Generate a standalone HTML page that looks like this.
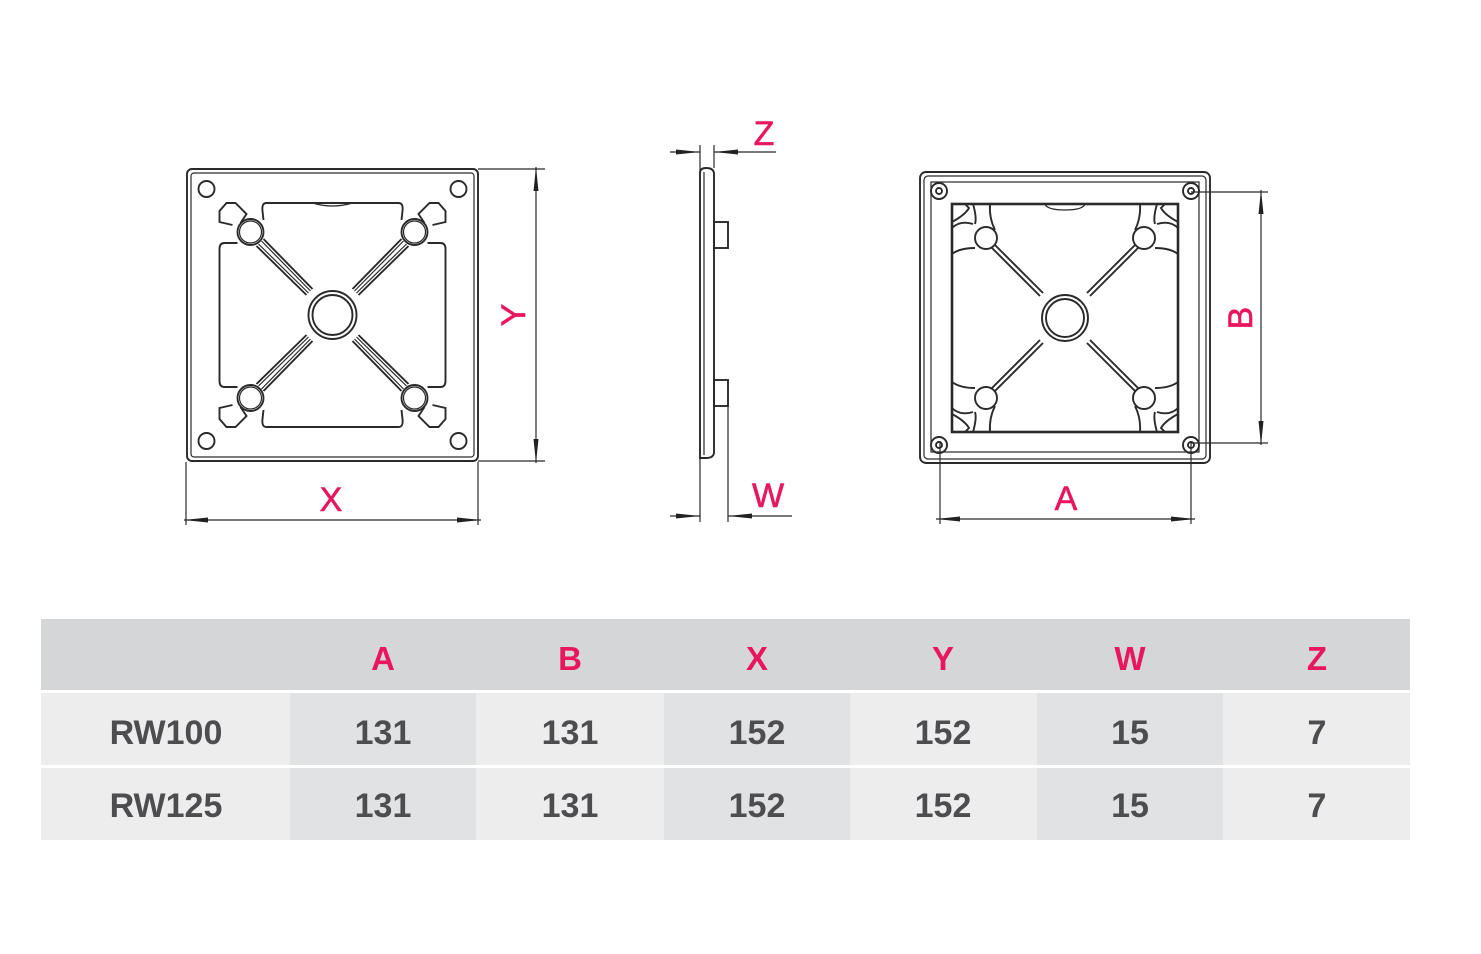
<!DOCTYPE html>
<html><head><meta charset="utf-8"><style>
html,body{margin:0;padding:0;background:#fff;width:1481px;height:954px;overflow:hidden}
svg{display:block}
.l{fill:none;stroke:#2a2a2a;stroke-width:1.9}
.t{stroke:#2a2a2a;stroke-width:1.2;fill:none}
.lbl{font-family:"Liberation Sans",sans-serif;font-size:34px;fill:#e8175d;stroke:#e8175d;stroke-width:0.6}
.h{font-family:"Liberation Sans",sans-serif;font-weight:bold;font-size:33px;fill:#e8175d;text-anchor:middle}
.v{font-family:"Liberation Sans",sans-serif;font-weight:bold;font-size:34px;fill:#4d4d4f;text-anchor:middle}
</style></head><body>
<svg width="1481" height="954" viewBox="0 0 1481 954" xmlns="http://www.w3.org/2000/svg">
<defs>
<marker id="ar" viewBox="0 0 24 8" refX="24" refY="4" markerWidth="24" markerHeight="8" markerUnits="userSpaceOnUse" orient="auto-start-reverse"><path d="M0,1.5 L24,4 L0,6.5 Z" fill="#222"/></marker>
<g id="qL">
  <path class="l" d="M0,-112 H-66 Q-71,-112 -70,-104 L-69,-95 M-95,-72 H-108 Q-113,-72 -113,-66 V0"/>
  <path class="l" d="M-92,-92 L-86,-101 L-97,-112 H-106 L-113,-104 V-93 L-100,-90"/>
  <circle class="l" cx="-82" cy="-83" r="13"/>
  <circle class="t" cx="-82" cy="-83" r="11"/>
  <path class="l" d="M-76,-69 L-26,-20 M-69,-76 L-20,-26"/>
  <path class="t" d="M-74,-71 L-24,-22 M-71,-74 L-22,-24"/>
  <circle class="l" cx="-126" cy="-126" r="8"/>
</g>
<g id="qR">
  <circle class="l" cx="-79" cy="-80" r="11"/>
  <path class="l" d="M-73,-70 L-25,-22 M-70,-73 L-22,-25"/>
  <path class="l" d="M-113,-90 Q-105,-98 -92,-94 M-113,-64 Q-105,-70 -90,-70 M-92,-114 Q-88,-100 -90,-94 M-75,-114 Q-76,-100 -70,-88"/>
  <path class="l" d="M-113,-96 Q-100,-103 -96,-110 L-100,-114"/>
  <circle class="l" cx="-126" cy="-127" r="8"/>
  <circle class="l" cx="-126" cy="-127" r="3"/>
</g>
</defs>

<rect class="l" x="187" y="169" width="291" height="292" rx="5"/>
<rect class="t" x="191" y="173" width="283" height="284" rx="3"/>
<g transform="translate(332.5,315)">
  <use href="#qL"/>
  <use href="#qL" transform="scale(-1,1)"/>
  <use href="#qL" transform="scale(1,-1)"/>
  <use href="#qL" transform="scale(-1,-1)"/>
  <circle class="l" cx="0" cy="0" r="24"/>
  <circle class="l" cx="0" cy="0" r="20"/>
  <path class="t" d="M-20,-112 Q0,-106 20,-112"/>
</g>

<line class="t" x1="186" y1="462" x2="186" y2="525"/>
<line class="t" x1="478" y1="462" x2="478" y2="525"/>
<line class="t" x1="184" y1="520" x2="481" y2="520" marker-start="url(#ar)" marker-end="url(#ar)"/>
<text class="lbl" x="331" y="511" text-anchor="middle">X</text>
<line class="t" x1="478" y1="169" x2="545" y2="169"/>
<line class="t" x1="478" y1="461" x2="545" y2="461"/>
<line class="t" x1="536" y1="167" x2="536" y2="463" marker-start="url(#ar)" marker-end="url(#ar)"/>
<text class="lbl" transform="translate(525,315) rotate(-90)" text-anchor="middle">Y</text>

<path class="l" d="M700,458 V173 Q700,168 706,168 Q714,168 714,174 V452 Q714,458 706,458 Z"/>
<line class="t" x1="704" y1="172" x2="704" y2="455"/>
<rect class="l" x="714" y="222" width="14" height="26"/>
<rect class="l" x="714" y="380" width="14" height="26"/>
<line class="t" x1="700" y1="145" x2="700" y2="522"/>
<line class="t" x1="714" y1="145" x2="714" y2="168"/>
<line class="t" x1="728" y1="406" x2="728" y2="522"/>
<line class="t" x1="670" y1="152" x2="700" y2="152" marker-end="url(#ar)"/>
<line class="t" x1="776" y1="152" x2="714" y2="152" marker-end="url(#ar)"/>
<line class="t" x1="670" y1="516" x2="700" y2="516" marker-end="url(#ar)"/>
<line class="t" x1="792" y1="516" x2="728" y2="516" marker-end="url(#ar)"/>
<text class="lbl" x="764" y="145" text-anchor="middle">Z</text>
<text class="lbl" x="768" y="507" text-anchor="middle">W</text>

<rect class="l" x="920" y="172" width="290" height="291" rx="6"/>
<rect class="t" x="924" y="176" width="282" height="283" rx="4"/>
<rect class="t" x="931" y="182" width="268" height="270"/>
<rect class="l" x="952" y="204" width="226" height="228" style="stroke-width:2.6"/>
<g transform="translate(1065,318)">
  <use href="#qR"/>
  <use href="#qR" transform="scale(-1,1)"/>
  <use href="#qR" transform="scale(1,-1)"/>
  <use href="#qR" transform="scale(-1,-1)"/>
  <circle class="l" cx="0" cy="0" r="23"/>
  <circle class="l" cx="0" cy="0" r="19"/>
  <path class="t" d="M-20,-114 Q-18,-108 0,-108 Q18,-108 20,-114"/>
</g>
<line class="t" x1="940" y1="441" x2="940" y2="524"/>
<line class="t" x1="1191" y1="441" x2="1191" y2="524"/>
<line class="t" x1="936" y1="519" x2="1195" y2="519" marker-start="url(#ar)" marker-end="url(#ar)"/>
<text class="lbl" x="1066" y="510" text-anchor="middle">A</text>
<line class="t" x1="1191" y1="192" x2="1268" y2="192"/>
<line class="t" x1="1191" y1="443" x2="1268" y2="443"/>
<line class="t" x1="1261" y1="190" x2="1261" y2="445" marker-start="url(#ar)" marker-end="url(#ar)"/>
<text class="lbl" transform="translate(1252,318) rotate(-90)" text-anchor="middle">B</text>

<rect x="41" y="619" width="1369" height="71" fill="#d5d6d8"/>
<rect x="41" y="693" width="1369" height="72" fill="#ededee"/>
<rect x="41" y="768" width="1369" height="72" fill="#ededee"/>
<g fill="#e1e2e3">
<rect x="290" y="693" width="186" height="72"/><rect x="290" y="768" width="186" height="72"/>
<rect x="664" y="693" width="186" height="72"/><rect x="664" y="768" width="186" height="72"/>
<rect x="1037" y="693" width="186" height="72"/><rect x="1037" y="768" width="186" height="72"/>
</g>
<text class="h" x="383" y="670">A</text>
<text class="h" x="570" y="670">B</text>
<text class="h" x="757" y="670">X</text>
<text class="h" x="943" y="670">Y</text>
<text class="h" x="1130" y="670">W</text>
<text class="h" x="1317" y="670">Z</text>
<text class="v" x="166" y="744">RW100</text>
<text class="v" x="383" y="744">131</text>
<text class="v" x="570" y="744">131</text>
<text class="v" x="757" y="744">152</text>
<text class="v" x="943" y="744">152</text>
<text class="v" x="1130" y="744">15</text>
<text class="v" x="1317" y="744">7</text>
<text class="v" x="166" y="817">RW125</text>
<text class="v" x="383" y="817">131</text>
<text class="v" x="570" y="817">131</text>
<text class="v" x="757" y="817">152</text>
<text class="v" x="943" y="817">152</text>
<text class="v" x="1130" y="817">15</text>
<text class="v" x="1317" y="817">7</text>
</svg>
</body></html>
